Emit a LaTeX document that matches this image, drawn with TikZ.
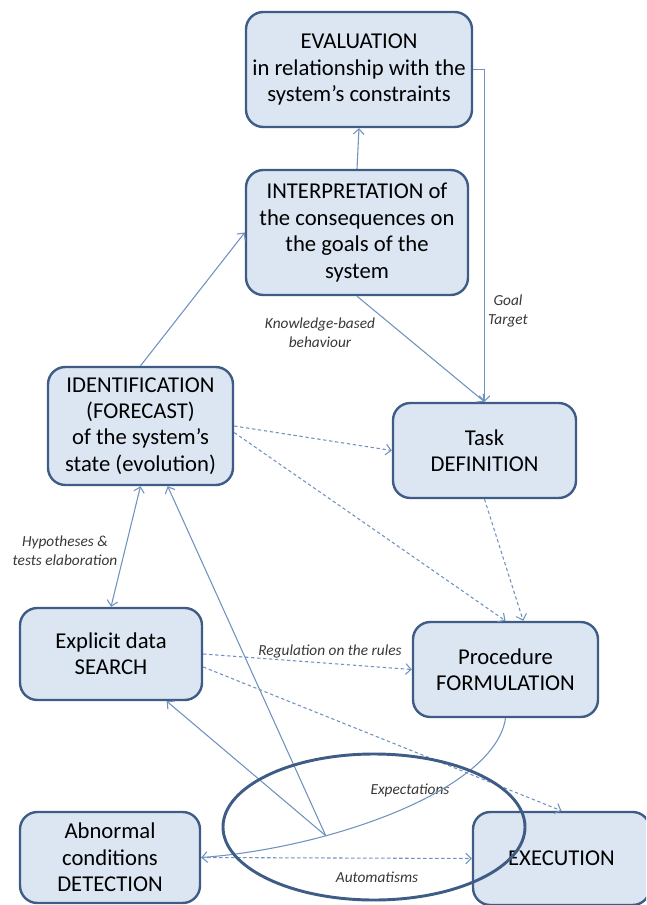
\documentclass[tikz,border=0pt]{standalone}
\usepackage{fontspec}
\setmainfont{Carlito}
\usetikzlibrary{arrows.meta}
\definecolor{boxfill}{RGB}{220,230,242}
\definecolor{boxline}{RGB}{62,92,134}
\definecolor{linkcol}{RGB}{112,146,190}
\definecolor{notegray}{RGB}{55,55,55}
\tikzset{
  box/.style={draw=boxline, line width=1.8pt, fill=boxfill, rounded corners=13pt,
    align=center, inner sep=0pt, font=\fontsize{17}{19.8}\selectfont},
  link/.style={draw=linkcol, line width=0.8pt, ->},
  dlink/.style={link, dash pattern=on 2.5pt off 2pt},
  note/.style={font=\fontsize{11.5}{14}\selectfont\itshape, text=notegray, align=center}
}

\begin{document}
\begin{tikzpicture}[x=0.75pt, y=-0.75pt, >={Straight Barb[length=4pt,width=8pt]}]
		%%%%% START %%%%%
		\useasboundingbox (0,0) rectangle (646,905);
		\clip (0,0) rectangle (646,905);
		
		\node[box, minimum width=169.5pt, minimum height=86.25pt] (eval) at (359,69.5)
			{EVALUATION\\in relationship with the\\system’s constraints};
		\node[box, minimum width=166.5pt, minimum height=93.75pt] (interp) at (357,232.5)
			{INTERPRETATION of\\the consequences on\\the goals of the\\system};
		\node[box, minimum width=138.75pt, minimum height=88.5pt] (ident) at (140.5,426)
			{IDENTIFICATION\\(FORECAST)\\of the system’s\\state (evolution)};
		\node[box, minimum width=137.25pt, minimum height=71.25pt] (task) at (484.5,450.5)
			{Task\\DEFINITION};
		\node[box, minimum width=136.5pt, minimum height=69pt] (search) at (111,654)
			{Explicit data\\SEARCH};
		\node[box, minimum width=138.75pt, minimum height=71.25pt] (proc) at (505.5,669.5)
			{Procedure\\FORMULATION};
		\node[box, minimum width=135pt, minimum height=68.25pt] (detect) at (110,857.5)
			{Abnormal\\conditions\\DETECTION};
		\node[box, minimum width=132.75pt, minimum height=69.75pt] (exec) at (561.5,858.5)
			{EXECUTION};
		
		% labels
		\node[note] (lknow) at (320,333) {Knowledge-based\\behaviour};
		\node[note] (lgoal) at (508,311) {Goal\\Target};
		\node[note] (lhyp) at (65,551) {Hypotheses \&\\tests elaboration};
		\node[note] (lreg) at (330,651) {Regulation on the rules};
		\node[note] (lexp) at (410,790) {Expectations};
		\node[note] (laut) at (377,877) {Automatisms};
		
		% solid links
		\draw[link] (ident.north) -- (interp.west);
		\draw[link] (interp.north) -- (eval.south);
		\draw[link] (interp.south) -- (task.north);
		\draw[link] (eval.east) -| (task.north);
		\draw[link, <->] (ident.south) -- (search.north);
		\draw[link] (proc.south) .. controls (495,790) and (330,848) .. coordinate[pos=0.69] (hub) (detect.east);
		\draw[link] (hub) -- (ident);
		\draw[link] (hub) -- (search);
		
		% dashed links
		\draw[dlink] (ident.east) -- (task.west);
		\draw[dlink] (ident.-4) -- (proc.north);
		\draw[dlink] (task.south) -- (proc.70);
		\draw[dlink] (search.east) -- (proc.west);
		\draw[dlink] (search.-8) -- (exec.north);
		\draw[dlink] (detect.east) -- (exec.west);
		
		\draw[draw=boxline, line width=2.2pt] (374,827) ellipse (151 and 73);
		%%%%% END %%%%%
\end{tikzpicture}
\end{document}
